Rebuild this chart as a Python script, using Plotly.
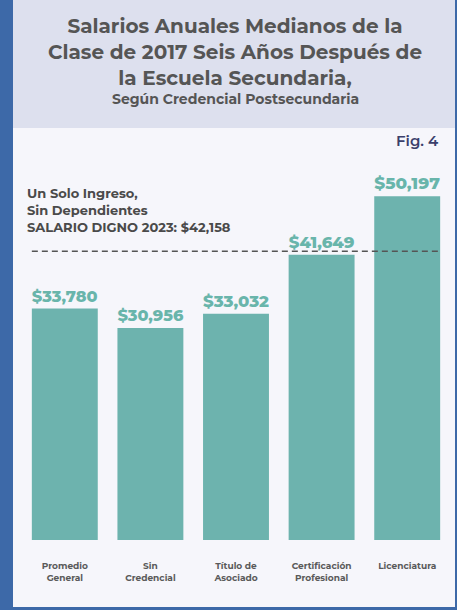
import plotly.graph_objects as go

categories = ["Promedio<br>General", "Sin<br>Credencial", "Título de<br>Asociado",
              "Certificación<br>Profesional", "Licenciatura"]
salaries = [33780, 30956, 33032, 41649, 50197]
value_labels = ["$33,780", "$30,956", "$33,032", "$41,649", "$50,197"]
living_wage = 42158
note_lines = ["Un Solo Ingreso,", "Sin Dependientes", "SALARIO DIGNO 2023: $42,158"]

W, H = 457, 610
L, R, T, B = 22, 7, 129, 70
PW, PH = W - L - R, H - T - B

BLUE = "#3d69a8"
HEADER = "#dde0ee"
PANEL = "#f6f6fb"
TEAL = "#6db3ae"
TEAL_TXT = "#69b5ab"
GREY = "#555555"
FONT = "Montserrat, 'Open Sans', sans-serif"


def px_x(px):
    return (px - L) / PW


def px_y(py):
    return (H - B - py) / PH


fig = go.Figure(go.Bar(
    x=list(range(len(categories))),
    y=salaries,
    marker=dict(color=TEAL, line=dict(width=0)),
    text=value_labels,
    textposition="outside",
    textfont=dict(family=FONT, size=17, color=TEAL_TXT, weight=800),
    cliponaxis=False,
    width=0.77,
    hoverinfo="skip",
))

shapes = [
    # left / right / bottom blue frame
    dict(type="rect", xref="paper", yref="paper", x0=px_x(0), x1=px_x(13),
         y0=px_y(H), y1=px_y(0), fillcolor=BLUE, line_width=0, layer="below"),
    dict(type="rect", xref="paper", yref="paper", x0=px_x(455), x1=px_x(W),
         y0=px_y(H), y1=px_y(0), fillcolor=BLUE, line_width=0, layer="below"),
    dict(type="rect", xref="paper", yref="paper", x0=px_x(0), x1=px_x(W),
         y0=px_y(H), y1=px_y(607), fillcolor=BLUE, line_width=0, layer="below"),
    # header band
    dict(type="rect", xref="paper", yref="paper", x0=px_x(13), x1=px_x(455),
         y0=px_y(128), y1=px_y(0), fillcolor=HEADER, line_width=0, layer="below"),
    # living wage line
    dict(type="line", xref="x", yref="y", x0=-0.385, x1=4.385,
         y0=living_wage, y1=living_wage,
         line=dict(color="#555555", width=1.6, dash="6px,4px")),
]

annotations = [
    dict(text="Salarios Anuales Medianos de la<br>Clase de 2017 Seis Años Después de<br>la Escuela Secundaria,",
         x=px_x(235), y=px_y(12), xref="paper", yref="paper", xanchor="center", yanchor="top",
         showarrow=False, font=dict(family=FONT, size=20, color=GREY, weight=700)),
    dict(text="Según Credencial Postsecundaria",
         x=px_x(235), y=px_y(98.5), xref="paper", yref="paper", xanchor="center", yanchor="middle",
         showarrow=False, font=dict(family=FONT, size=14, color=GREY, weight=700)),
    dict(text="Fig. 4",
         x=px_x(441), y=px_y(140), xref="paper", yref="paper", xanchor="right", yanchor="middle",
         showarrow=False, font=dict(family=FONT, size=15, color="#3b3f6b", weight=600)),
    dict(text="<br>".join(note_lines),
         x=px_x(25), y=px_y(183), xref="paper", yref="paper",
         xanchor="left", yanchor="top", align="left", showarrow=False,
         font=dict(family=FONT, size=13, color="#4a4a4a", weight=700)),
]

fig.update_layout(
    width=W, height=H,
    margin=dict(l=L, r=R, t=T, b=B),
    paper_bgcolor=PANEL,
    plot_bgcolor="rgba(0,0,0,0)",
    showlegend=False,
    shapes=shapes,
    annotations=annotations,
    xaxis=dict(
        range=[-0.5, 4.5],
        tickmode="array",
        tickvals=list(range(len(categories))),
        ticktext=categories,
        tickfont=dict(family=FONT, size=9, color="#5a5a5a", weight=700),
        ticklabelstandoff=19,
        showgrid=False, zeroline=False, showline=False, ticks="",
        fixedrange=True,
    ),
    yaxis=dict(
        range=[0, 60000],
        visible=False,
        fixedrange=True,
    ),
)

fig.write_html("out.html", config={"displayModeBar": False},
               post_script="document.body.style.margin='0';")
